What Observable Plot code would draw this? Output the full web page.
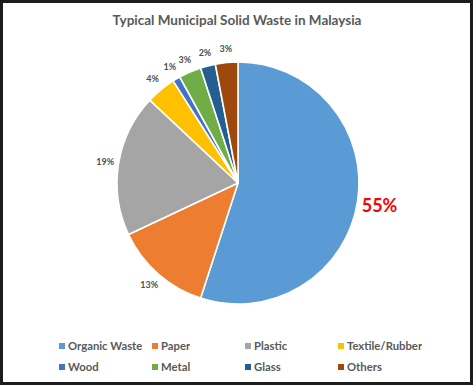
<!DOCTYPE html>
<html><head><meta charset="utf-8">
<script src="https://cdn.jsdelivr.net/npm/d3@7"></script>
<script src="https://cdn.jsdelivr.net/npm/@observablehq/plot@0.6"></script>
<style>
body{margin:0;background:#fff;}
#frame{position:relative;width:473px;height:385px;box-sizing:border-box;border:3px solid #1c1c1c;background:#fff;overflow:hidden;}
#chart{position:absolute;left:0;top:0;}
#legend{position:absolute;left:56px;top:332px;}
.lg-swatch > svg{margin-right:3px;}
.lg-swatch{padding-bottom:0 !important;}
</style></head><body>
<div id="frame"><div id="chart"></div><div id="legend"></div></div>
<script>
const title = "Typical Municipal Solid Waste in Malaysia";
const categories = ["Organic Waste","Paper","Plastic","Textile/Rubber","Wood","Metal","Glass","Others"];
const values = [55, 13, 19, 4, 1, 3, 2, 3];
const labels = ["55%","13%","19%","4%","1%","3%","2%","3%"];
const colors = ["#5B9BD5","#ED7D31","#A5A5A5","#FFC000","#4472C4","#70AD47","#255E91","#9E480E"];

const rows = categories.map((c, i) => ({category: c, value: values[i], label: labels[i]}));
const arcs = d3.pie().sort(null).value(d => d.value)(rows);
const labelRows = arcs.map((a, i) => {
  const mid = (a.startAngle + a.endAngle) / 2;
  const big = i === 0;
  const r = big ? 1.18 : 1.115;
  return {label: a.data.label, big, x: r * Math.sin(mid), y: r * Math.cos(mid)};
});

const chart = Plot.plot({
  width: 467,
  height: 330,
  margin: 0,
  style: {fontFamily: "Lato, sans-serif", background: "transparent", overflow: "visible"},
  x: {domain: [-1, 1], range: [114, 356], axis: null},
  y: {domain: [-1, 1], range: [301, 59], axis: null},
  color: {domain: categories, range: colors},
  marks: [
    Plot.dot(arcs, {
      x: () => 0, y: () => 0, fill: d => d.data.category,
      render(index, scales, values, dimensions, context) {
        const cx = scales.x(0), cy = scales.y(0), r = scales.x(1) - scales.x(0);
        const arc = d3.arc().innerRadius(0).outerRadius(r);
        const g = d3.create("svg:g").attr("transform", `translate(${cx},${cy})`);
        g.selectAll("path").data(Array.from(index)).join("path")
          .attr("d", i => arc(arcs[i]))
          .attr("fill", i => values.fill[i])
          .attr("stroke", "white").attr("stroke-width", 1.6).attr("stroke-linejoin", "round");
        return g.node();
      }
    }),
    Plot.text(labelRows.filter(d => !d.big), {x: "x", y: "y", text: "label", fontSize: 9, fontWeight: "bold", fill: "#505050", textAnchor: "middle"}),
    Plot.text(labelRows.filter(d => d.big), {x: "x", y: "y", text: "label", fontSize: 18, fontWeight: "bold", fill: "#FF0000", textAnchor: "middle"}),
    Plot.text([title], {frameAnchor: "top", dy: 17, text: d => d, fontSize: 13.5, fontWeight: "bold", fill: "#595959", lineAnchor: "middle"})
  ]
});
document.getElementById("chart").appendChild(chart);

const legend = Plot.legend({
  color: {domain: categories, range: colors},
  columns: 4,
  swatchSize: 6,
  className: "lg",
  style: "display:grid;grid-template-columns:repeat(4,93px);grid-auto-rows:21px;font-family:Lato,sans-serif;font-size:11.3px;font-weight:bold;color:#595959;margin:0;"
});
document.getElementById("legend").appendChild(legend);
</script>
</body></html>
